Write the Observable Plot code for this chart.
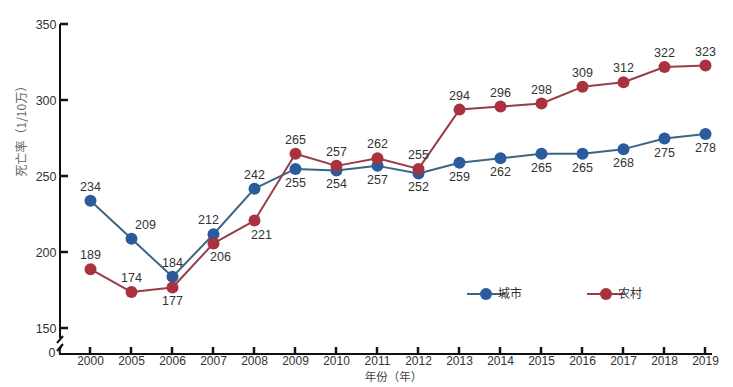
<!DOCTYPE html>
<html><head><meta charset="utf-8">
<script src="https://cdn.jsdelivr.net/npm/d3@7"></script>
<script src="https://cdn.jsdelivr.net/npm/@observablehq/plot@0.6"></script>
<style>body{margin:0;background:#fff;font-family:Arial,"Liberation Sans",sans-serif;}</style>
</head><body><div id="chart"></div>
<script>
// ---- data ----
const years = ["2000","2005","2006","2007","2008","2009","2010","2011","2012","2013","2014","2015","2016","2017","2018","2019"];
const urban = [234,209,184,212,242,255,254,257,252,259,262,265,265,268,275,278];
const rural = [189,174,177,206,221,265,257,262,255,294,296,298,309,312,322,323];
const seriesNames = ["城市","农村"];
const yTicks = [150,200,250,300,350];
const yTitle = "死亡率（1/10万）";
const xTitle = "年份（年）";
// label placement: a=above, b=below, ar=above-right, al=above-left, br=below-right
const urbanPos = ["a","ar","a","al","a","b","b","b","b","b","b","b","b","b","b","b"];
const ruralPos = ["a","a","b","br","br","a","a","a","a","a","a","a","a","a","a","a"];

const colors = {"城市": {dot:"#2b5b9c", line:"#3b6584"}, "农村": {dot:"#a8323d", line:"#983d48"}};
const rows = [
  ...years.map((y,i)=>({year:y, value:urban[i], series:seriesNames[0], pos:urbanPos[i]})),
  ...years.map((y,i)=>({year:y, value:rural[i], series:seriesNames[1], pos:ruralPos[i]}))
];
const dyOf = p => p.startsWith("a") ? -14 : 14;
const dxOf = p => p==="ar" ? 14 : p==="al" ? -5 : p==="br" ? 7 : 0;

const font = 'Arial,"Liberation Sans",sans-serif';
const cjk = '"Noto Sans CJK SC",sans-serif';

function decor(index, scales, values, dims) {
  const svg = d3.create("svg:g");
  const x0 = dims.marginLeft, xEnd = dims.width - dims.marginRight;
  const yBase = dims.height - dims.marginBottom, yTop = dims.marginTop;
  const col = "#111";
  // y axis line with break
  svg.append("line").attr("x1",x0).attr("x2",x0).attr("y1",yTop).attr("y2",yBase-16).attr("stroke",col).attr("stroke-width",2);
  svg.append("line").attr("x1",x0-3).attr("x2",x0+3).attr("y1",yBase-11).attr("y2",yBase-18).attr("stroke",col).attr("stroke-width",2);
  svg.append("line").attr("x1",x0-3).attr("x2",x0+3).attr("y1",yBase-3).attr("y2",yBase-10).attr("stroke",col).attr("stroke-width",2);
  svg.append("path").attr("d",`M${x0+2},${yBase-9} Q${x0-1},${yBase-5} ${x0},${yBase}`).attr("fill","none").attr("stroke",col).attr("stroke-width",2);
  // x axis line
  svg.append("line").attr("x1",x0-1).attr("x2",xEnd).attr("y1",yBase).attr("y2",yBase).attr("stroke",col).attr("stroke-width",2);
  // y ticks
  for (const t of yTicks) {
    const y = scales.y(t);
    svg.append("line").attr("x1",x0).attr("x2",x0+8).attr("y1",y).attr("y2",y).attr("stroke",col).attr("stroke-width",2.5);
  }
  // x ticks
  for (const yr of years) {
    const x = scales.x(yr);
    svg.append("line").attr("x1",x).attr("x2",x).attr("y1",yBase).attr("y2",yBase-7).attr("stroke",col).attr("stroke-width",2.5);
  }
  // legend
  const leg = [{name:seriesNames[0], x:467}, {name:seriesNames[1], x:587}];
  for (const l of leg) {
    const c = colors[l.name];
    const ly = 294;
    svg.append("line").attr("x1",l.x).attr("x2",l.x+38).attr("y1",ly).attr("y2",ly).attr("stroke",c.line).attr("stroke-width",2);
    svg.append("circle").attr("cx",l.x+19).attr("cy",ly).attr("r",6).attr("fill",c.dot);
    svg.append("text").attr("x",l.x+43).attr("y",ly).attr("dy","0.35em").attr("font-size",12).attr("font-family",cjk).attr("fill","#333").text(l.name);
  }
  return svg.node();
}

const chart = Plot.plot({
  width: 733,
  height: 387,
  marginLeft: 60,
  marginRight: 21,
  marginTop: 24,
  marginBottom: 33,
  style: {fontFamily: font, background: "#fff", color: "#333"},
  x: {type: "point", domain: years, range: [86, 709], padding: 0, axis: null},
  y: {domain: [132.9, 350], axis: null},
  marks: [
    Plot.axisY({ticks: yTicks, tickSize: 0, tickPadding: 4, fontSize: 12.5, fill: "#333", label: null}),
    Plot.axisX({tickSize: 0, tickPadding: 2, fontSize: 12, fill: "#333", label: null}),
    Plot.text(["0"], {text: d => d, frameAnchor: "bottom-left", dx: -12, dy: 2, fontSize: 12.5, fill: "#333"}),
    Plot.text([yTitle], {text: d => d, frameAnchor: "left", rotate: -90, dx: -38, dy: -13, fontSize: 12, fill: "#666", fontFamily: cjk}),
    Plot.text([xTitle], {text: d => d, frameAnchor: "bottom", dx: 7, dy: 26.5, fontSize: 11.5, fill: "#444", fontFamily: cjk}),
    decor,
    Plot.line(rows, {x: "year", y: "value", z: "series", stroke: d => colors[d.series].line, strokeWidth: 2}),
    Plot.dot(rows, {x: "year", y: "value", fill: d => colors[d.series].dot, r: 6}),
    ...["a","b","ar","al","br"].map(p => Plot.text(rows.filter(d => d.pos === p), {
      x: "year", y: "value", text: d => String(d.value),
      dx: dxOf(p), dy: dyOf(p), fontSize: 12.5, fill: "#333"}))
  ]
});
document.getElementById("chart").appendChild(chart);
</script>
</body></html>
